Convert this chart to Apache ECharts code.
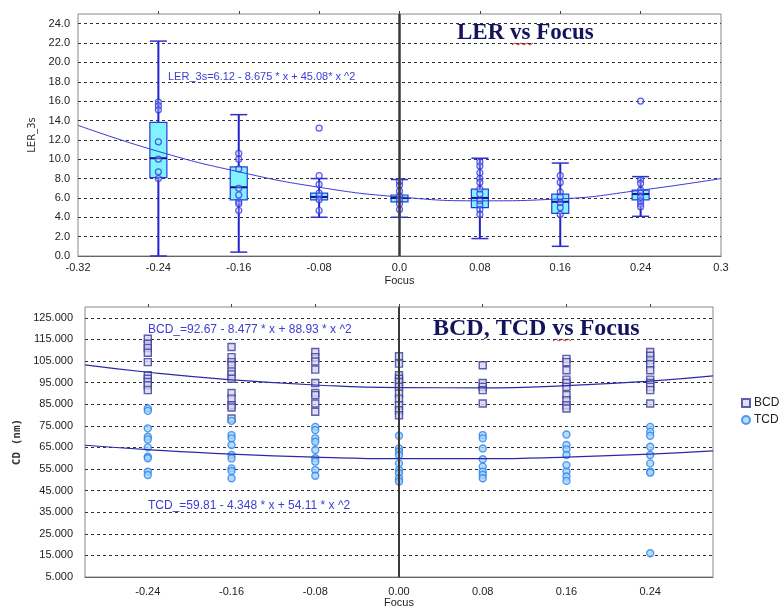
<!DOCTYPE html>
<html>
<head>
<meta charset="utf-8">
<script src="https://cdn.jsdelivr.net/npm/echarts@6/dist/echarts.min.js"></script>
<style>
  html, body { margin: 0; background: #fff; }
  #chart { width: 784px; height: 609px; }
</style>
</head>
<body>
<div id="chart"></div>
<script>
// focus steps shared by both charts
const focusSteps = [-0.24, -0.16, -0.08, 0, 0.08, 0.16, 0.24]
const lerTicks = [-0.32, -0.24, -0.16, -0.08, 0, 0.08, 0.16, 0.24, 0.32]
const lerTickLabels = ['-0.32', '-0.24', '-0.16', '-0.08', '0.0', '0.08', '0.16', '0.24', '0.3']
const cdTickLabels = ['-0.24', '-0.16', '-0.08', '0.00', '0.08', '0.16', '0.24']

// LER box statistics, one entry per focus step
const lerMin = [0.0, 0.4, 4.0, 4.0, 1.8, 1.0, 4.1]
const lerQ1 = [8.1, 5.8, 5.8, 5.6, 5.0, 4.4, 5.8]
const lerMedian = [10.1, 7.1, 6.1, 6.0, 6.0, 5.6, 6.4]
const lerQ3 = [13.8, 9.2, 6.5, 6.3, 6.9, 6.4, 6.8]
const lerMax = [22.2, 14.6, 8.0, 7.9, 10.1, 9.6, 8.2]

// LER raw measurements per focus step
const lerPoints = [
  [15.9, 15.5, 15.1, 11.8, 10.0, 8.7, 8.0],
  [10.6, 10.0, 9.0, 7.0, 6.3, 5.6, 5.4, 4.7],
  [13.2, 8.3, 7.4, 6.5, 6.2, 5.8, 4.7],
  [7.7, 7.3, 6.7, 6.2, 5.8, 5.4, 4.8],
  [9.7, 9.3, 8.6, 8.0, 7.6, 6.9, 6.4, 5.7, 5.3, 4.8, 4.3],
  [8.3, 7.6, 6.6, 6.1, 5.5, 5.0, 4.3],
  [16.0, 7.9, 7.5, 6.8, 6.5, 6.1, 5.7, 5.4, 5.1],
]

// fitted LER curve, read at the axis ticks
const lerFit = [13.5, 10.8, 8.7, 7.1, 6.1, 5.7, 5.9, 6.8, 8.0]

// CD measurements per focus step
const bcdPoints = [
  [115.3, 113.0, 111.0, 108.8, 104.5, 98.4, 96.8, 95.3, 93.8, 91.5],
  [111.5, 106.8, 104.5, 103.0, 100.2, 98.8, 96.8, 90.2, 87.6, 84.5, 83.5, 78.4],
  [109.2, 106.8, 104.8, 101.0, 94.8, 90.2, 89.2, 85.3, 81.5],
  [107.2, 103.8, 98.4, 96.8, 95.3, 93.0, 89.9, 87.6, 84.5, 82.2, 79.9],
  [103.0, 94.8, 93.0, 91.5, 85.3],
  [106.0, 104.5, 100.7, 96.4, 94.8, 93.0, 89.2, 86.8, 84.5, 83.0],
  [109.2, 107.4, 105.3, 103.5, 100.7, 96.4, 94.8, 93.0, 91.5, 85.3],
]
const tcdPoints = [
  [83.0, 81.9, 73.8, 69.9, 68.7, 65.0, 60.7, 60.0, 53.8, 52.2],
  [77.3, 70.7, 69.2, 66.1, 61.5, 59.9, 55.3, 54.1, 50.7],
  [74.5, 73.0, 69.2, 67.6, 63.8, 60.0, 58.4, 54.5, 51.9],
  [70.4, 64.5, 63.0, 61.5, 57.6, 54.5, 53.0, 50.7, 49.2],
  [70.7, 69.2, 64.5, 59.5, 56.1, 53.8, 52.3, 50.7],
  [71.0, 66.1, 64.1, 61.5, 56.8, 53.8, 51.5, 49.5],
  [74.5, 72.2, 70.4, 65.3, 61.5, 57.6, 53.8, 53.3, 16.0],
]

// fitted CD curves, read at these focus values
const cdFitX = [-0.3, -0.24, -0.16, -0.08, 0, 0.08, 0.16, 0.24, 0.3]
const bcdFit = [103.2, 99.8, 96.3, 93.9, 92.7, 92.6, 93.6, 95.7, 98.1]
const tcdFit = [66.0, 64.0, 61.9, 60.5, 59.8, 59.8, 60.5, 61.9, 63.4]

const toPairs = (cols) => cols.flatMap((vals, i) => vals.map(v => [focusSteps[i], v]))
const nearestLabel = (ticks, labels) => (v) => {
  const i = ticks.findIndex(t => Math.abs(t - v) < 1e-6)
  return i < 0 ? '' : labels[i]
}

const labelFont = { color: '#222', fontSize: 11, fontFamily: 'Liberation Sans' }
const dashed = { show: true, showMinLine: false, showMaxLine: false, lineStyle: { color: '#333', type: [3, 3], width: 1 } }

function renderBox(params, api) {
  const x = api.value(0)
  const lo = api.coord([x, api.value(1)])
  const q1 = api.coord([x, api.value(2)])
  const md = api.coord([x, api.value(3)])
  const q3 = api.coord([x, api.value(4)])
  const hi = api.coord([x, api.value(5)])
  const cx = lo[0]
  const half = 8.5
  const whisker = { stroke: '#2222cc', lineWidth: 2 }
  return {
    type: 'group',
    children: [
      { type: 'line', shape: { x1: cx, y1: hi[1], x2: cx, y2: q3[1] }, style: whisker },
      { type: 'line', shape: { x1: cx, y1: q1[1], x2: cx, y2: lo[1] }, style: whisker },
      { type: 'line', shape: { x1: cx - half, y1: hi[1], x2: cx + half, y2: hi[1] }, style: { stroke: '#3030d0', lineWidth: 1.5 } },
      { type: 'line', shape: { x1: cx - half, y1: lo[1], x2: cx + half, y2: lo[1] }, style: { stroke: '#3030d0', lineWidth: 1.5 } },
      { type: 'rect', shape: { x: cx - half, y: q3[1], width: half * 2, height: q1[1] - q3[1] }, style: { fill: '#7ff4ff', stroke: '#2b3bd6', lineWidth: 1.2 } },
      { type: 'line', shape: { x1: cx - half, y1: md[1], x2: cx + half, y2: md[1] }, style: { stroke: '#10108a', lineWidth: 2 } },
    ],
  }
}

const chart = echarts.init(document.getElementById('chart'))
chart.setOption({
  backgroundColor: '#fff',
  animation: false,
  grid: [
    { left: 78, right: 63, top: 14, height: 242, show: true, borderColor: '#888', borderWidth: 1, outerBoundsMode: 'none' },
    { left: 85, right: 71, top: 307, height: 270, show: true, borderColor: '#888', borderWidth: 1, outerBoundsMode: 'none' },
  ],
  xAxis: [
    {
      gridIndex: 0, type: 'value', min: -0.32, max: 0.32,
      name: 'Focus', nameLocation: 'middle', nameGap: 19, nameTextStyle: labelFont,
      axisLine: { show: true, lineStyle: { color: '#666' } },
      axisTick: { show: false },
      axisLabel: { ...labelFont, margin: 6, customValues: lerTicks, formatter: nearestLabel(lerTicks, lerTickLabels) },
      splitLine: { show: false },
    },
    {
      gridIndex: 0, type: 'value', min: -0.32, max: 0.32, position: 'top',
      axisLine: { show: false },
      axisTick: { show: true, length: 3, customValues: focusSteps, lineStyle: { color: '#444' } },
      axisLabel: { show: false },
      splitLine: { show: false },
    },
    {
      gridIndex: 1, type: 'value', min: -0.3, max: 0.3,
      name: 'Focus', nameLocation: 'middle', nameGap: 20, nameTextStyle: labelFont,
      axisLine: { show: true, lineStyle: { color: '#666' } },
      axisTick: { show: false },
      axisLabel: { ...labelFont, margin: 9, customValues: focusSteps, formatter: nearestLabel(focusSteps, cdTickLabels) },
      splitLine: { show: false },
    },
    {
      gridIndex: 1, type: 'value', min: -0.3, max: 0.3, position: 'top',
      axisLine: { show: false },
      axisTick: { show: true, length: 3, customValues: focusSteps, lineStyle: { color: '#444' } },
      axisLabel: { show: false },
      splitLine: { show: false },
    },
  ],
  yAxis: [
    {
      gridIndex: 0, type: 'value', min: 0, max: 25, interval: 2,
      name: 'LER_3s', nameLocation: 'middle', nameGap: 40,
      nameTextStyle: { color: '#333', fontSize: 10, fontFamily: 'DejaVu Sans' },
      axisLine: { show: true, lineStyle: { color: '#666' } },
      axisTick: { show: false },
      axisLabel: { ...labelFont, margin: 8, formatter: v => (v > 24.5 ? '' : v.toFixed(1)) },
      splitLine: dashed,
    },
    {
      gridIndex: 1, type: 'value', min: 5, max: 130, interval: 10,
      name: 'CD (nm)', nameLocation: 'middle', nameGap: 62,
      nameTextStyle: { color: '#333', fontSize: 11, fontWeight: 'bold', fontFamily: 'DejaVu Sans Mono' },
      axisLine: { show: true, lineStyle: { color: '#666' } },
      axisTick: { show: false },
      axisLabel: { ...labelFont, margin: 12, formatter: v => (v > 126 ? '' : v.toFixed(3)) },
      splitLine: dashed,
    },
  ],
  legend: {
    orient: 'vertical', left: 741, top: 397, itemGap: 5, itemWidth: 8, itemHeight: 8,
    padding: 0,
    textStyle: { color: '#222', fontSize: 12, fontFamily: 'Liberation Sans', padding: [0, 0, 0, -1] },
    data: ['BCD', 'TCD'],
  },
  series: [
    {
      name: 'LER box', type: 'custom', xAxisIndex: 0, yAxisIndex: 0,
      renderItem: renderBox, encode: { x: 0, y: [1, 2, 3, 4, 5] },
      data: focusSteps.map((x, i) => [x, lerMin[i], lerQ1[i], lerMedian[i], lerQ3[i], lerMax[i]]),
      z: 2,
    },
    {
      name: 'LER fit', type: 'line', xAxisIndex: 0, yAxisIndex: 0,
      smooth: true, showSymbol: false, silent: true,
      lineStyle: { color: '#3a3adc', width: 1 },
      data: lerTicks.map((x, i) => [x, lerFit[i]]),
      markLine: {
        silent: true, symbol: ['none', 'none'], label: { show: false },
        lineStyle: { color: '#3a3a3a', width: 2.5, type: 'solid' },
        data: [{ xAxis: 0 }],
      },
      z: 3,
    },
    {
      name: 'LER points', type: 'scatter', xAxisIndex: 0, yAxisIndex: 0,
      symbol: 'circle', symbolSize: 6,
      itemStyle: { color: 'rgba(180,220,255,0.4)', borderColor: '#3535e0', borderWidth: 1.2 },
      data: toPairs(lerPoints),
      z: 4,
    },
    {
      name: 'BCD fit', type: 'line', xAxisIndex: 2, yAxisIndex: 1,
      smooth: true, showSymbol: false, silent: true,
      lineStyle: { color: '#2a2aa8', width: 1.2 },
      data: cdFitX.map((x, i) => [x, bcdFit[i]]),
      markLine: {
        silent: true, symbol: ['none', 'none'], label: { show: false },
        lineStyle: { color: '#3a3a3a', width: 2, type: 'solid' },
        data: [{ xAxis: 0 }],
      },
    },
    {
      name: 'TCD fit', type: 'line', xAxisIndex: 2, yAxisIndex: 1,
      smooth: true, showSymbol: false, silent: true,
      lineStyle: { color: '#2a2aa8', width: 1.2 },
      data: cdFitX.map((x, i) => [x, tcdFit[i]]),
    },
    {
      name: 'BCD', type: 'scatter', xAxisIndex: 2, yAxisIndex: 1,
      symbol: 'rect', symbolSize: 7,
      itemStyle: { color: '#d6d6f2', borderColor: '#3a3a98', borderWidth: 1.4 },
      data: toPairs(bcdPoints),
    },
    {
      name: 'TCD', type: 'scatter', xAxisIndex: 2, yAxisIndex: 1,
      symbol: 'circle', symbolSize: 7,
      itemStyle: { color: '#9fd6ff', borderColor: '#2f80ea', borderWidth: 1.4 },
      data: toPairs(tcdPoints),
    },
  ],
  graphic: [
    { type: 'text', left: 457, top: 22, style: { text: 'LER vs Focus', fill: '#14145c', font: 'bold 23px "Liberation Serif"' } },
    { type: 'polyline', shape: { points: [[512, 45], [515, 43], [518, 45], [521, 43], [524, 45], [527, 43], [530, 45], [533, 43]] }, style: { stroke: '#dd3333', lineWidth: 1 } },
    { type: 'text', left: 168, top: 71, style: { text: 'LER_3s=6.12 - 8.675 * x + 45.08* x ^2', fill: '#3c3cd4', font: '11px "Liberation Sans"' } },
    { type: 'text', left: 433, top: 317, style: { text: 'BCD, TCD vs Focus', fill: '#14145c', font: 'bold 24px "Liberation Serif"' } },
    { type: 'polyline', shape: { points: [[553, 341], [556, 339], [559, 341], [562, 339], [565, 341], [568, 339], [571, 341]] }, style: { stroke: '#dd3333', lineWidth: 1 } },
    { type: 'text', left: 148, top: 324, style: { text: 'BCD_=92.67 - 8.477 * x + 88.93 * x ^2', fill: '#3c3cd4', font: '12px "Liberation Sans"' } },
    { type: 'text', left: 148, top: 500, style: { text: 'TCD_=59.81 - 4.348 * x + 54.11 * x ^2', fill: '#3c3cd4', font: '12px "Liberation Sans"' } },
  ],
})
</script>
</body>
</html>
